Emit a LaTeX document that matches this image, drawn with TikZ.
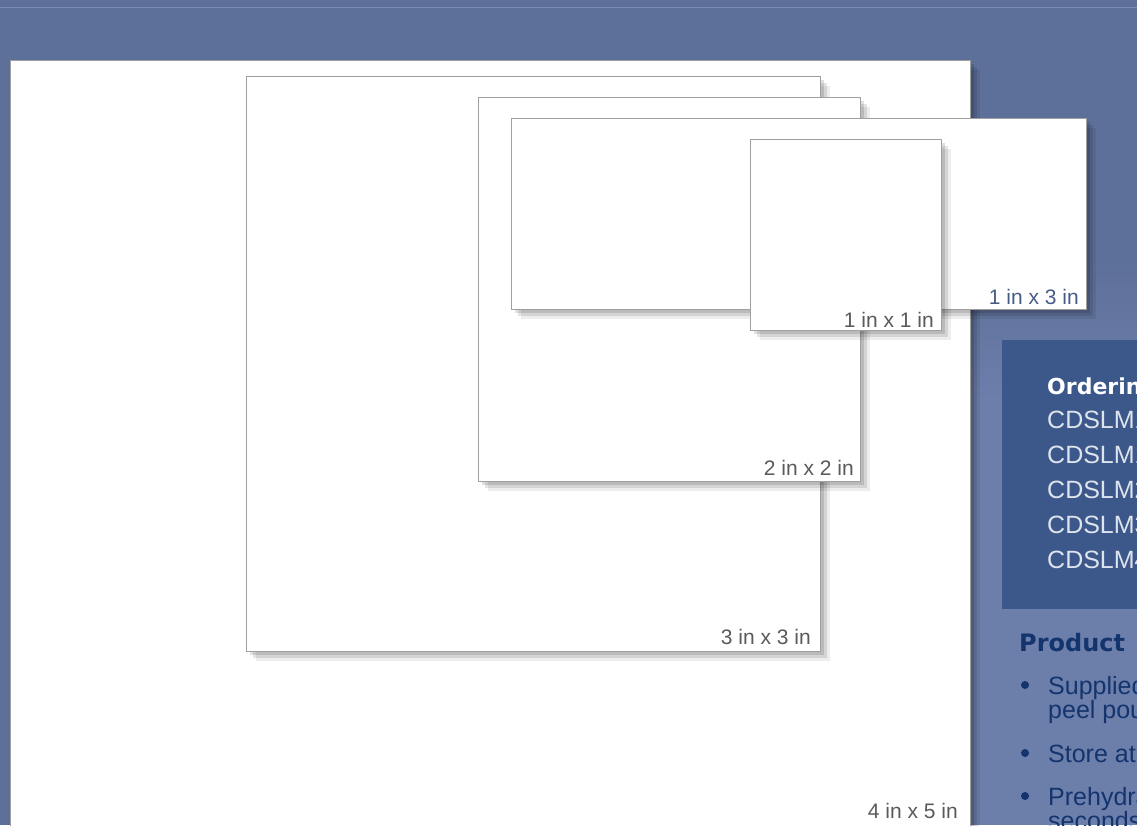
\documentclass[tikz,border=0pt]{standalone}
\usepackage{fontspec}
\setmainfont{Liberation Sans}
\newfontfamily\heavyfont{DejaVu Sans}
\usetikzlibrary{shadows, positioning}
\definecolor{cBack}{RGB}{93,112,153}
\definecolor{cBackLight}{RGB}{108,126,170}
\definecolor{cRule}{RGB}{122,140,182}
\definecolor{cBox}{RGB}{60,87,137}
\definecolor{cNavy}{RGB}{20,52,110}
\definecolor{cEdge}{RGB}{160,160,160}
\definecolor{cLabel}{RGB}{90,90,90}
\definecolor{cLabelBlue}{RGB}{70,92,135}
\definecolor{cCode}{RGB}{222,228,238}
\tikzset{
	softshadow/.style={drop shadow={shadow xshift=3pt, shadow yshift=-3pt, opacity=.12, fill=black},
	                   drop shadow={shadow xshift=6pt, shadow yshift=-6pt, opacity=.10, fill=black},
	                   drop shadow={shadow xshift=9pt, shadow yshift=-9pt, opacity=.07, fill=black}},
	sheet/.style   ={rectangle, draw=cEdge, line width=1pt, fill=white, anchor=north west, inner sep=0pt, softshadow},
	sizelbl/.style ={anchor=base east, inner sep=0pt, text=cLabel, font=\fontsize{21}{25}\selectfont},
	headlbl/.style ={anchor=base west, inner sep=0pt, font=\heavyfont\bfseries\fontsize{24}{28}\selectfont},
	codelbl/.style ={anchor=base west, inner sep=0pt, text=cCode, font=\fontsize{25}{30}\selectfont},
	itemlbl/.style ={anchor=base west, inner sep=0pt, text=cNavy, font=\fontsize{25}{30}\selectfont},
	bulletdot/.style={circle, fill=cNavy, draw=none, inner sep=0pt, minimum size=8pt},
}
\begin{document}
\begin{tikzpicture}[x=1pt, y=-1pt]
	\clip (0,0) rectangle (1137,825);
	% background
	\fill[cBack] (0,0) rectangle (1137,825);
	\draw[cRule, line width=1pt] (0,7) -- (1137,7);
	\shade[top color=cBack, bottom color=cBackLight] (960,260) rectangle (1137,400);
	\fill[cBackLight] (960,400) rectangle (1137,825);
	% sheet sizes
	\node[sheet, minimum width=960pt, minimum height=775pt] (s45) at (10,60) {};
	\node[sheet, minimum width=574pt, minimum height=575pt] (s33) at (246,76) {};
	\node[sheet, minimum width=382pt, minimum height=384pt] (s22) at (478,97) {};
	\node[sheet, minimum width=575pt, minimum height=191pt] (s13) at (511,118) {};
	\node[sheet, minimum width=191pt, minimum height=191pt] (s11) at (750,139) {};
	\node[sizelbl] (l45) at ([xshift=-13pt, yshift=18pt]s45.south east) {4 in x 5 in};
	\node[sizelbl] (l33) at ([xshift=-10pt, yshift=8pt]s33.south east) {3 in x 3 in};
	\node[sizelbl] (l22) at ([xshift=-7pt, yshift=7pt]s22.south east) {2 in x 2 in};
	\node[sizelbl, text=cLabelBlue] (l13) at ([xshift=-8pt, yshift=6pt]s13.south east) {1 in x 3 in};
	\node[sizelbl] (l11) at ([xshift=-8pt, yshift=4pt]s11.south east) {1 in x 1 in};
	% ordering box
	\node[rectangle, fill=cBox, anchor=north west, minimum width=160pt, minimum height=269pt] (order) at (1002,340) {};
	\node[headlbl, text=white, font=\heavyfont\bfseries\fontsize{22}{26}\selectfont] (ordhead) at (1047,394) {Ordering};
	\foreach \c [count=\i] in {CDSLM1,CDSLM1,CDSLM2,CDSLM3,CDSLM4}
		\node[codelbl] (code\i) at (1047,394+34.8*\i) {\c};
	% product list
	\node[headlbl, text=cNavy] (prodhead) at (1019,651) {Product};
	\node[bulletdot] (b1) at (1025,685) {};
	\node[bulletdot] (b2) at (1025,753) {};
	\node[bulletdot] (b3) at (1025,796) {};
	\node[itemlbl] (i1) at (1048,694) {Supplied};
	\node[itemlbl] (i1b) at (1048,718) {peel pouch};
	\node[itemlbl] (i2) at (1048,762) {Store at};
	\node[itemlbl] (i3) at (1048,805) {Prehydrate};
	\node[itemlbl] (i3b) at (1048,829) {seconds};
\end{tikzpicture}
\end{document}
